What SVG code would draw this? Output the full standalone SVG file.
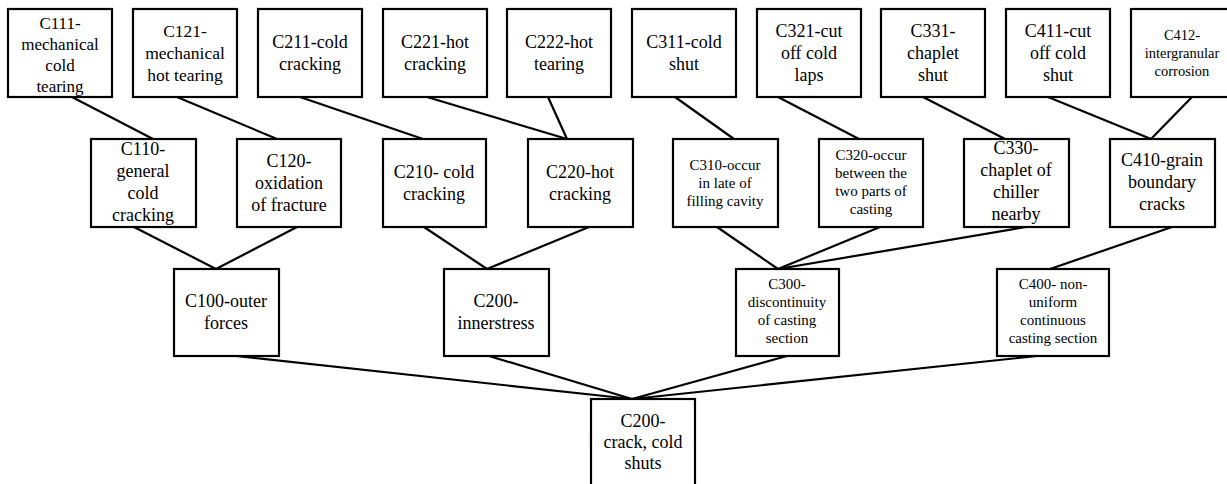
<svg xmlns="http://www.w3.org/2000/svg" width="1227" height="484" viewBox="0 0 1227 484" font-family="'Liberation Serif', 'DejaVu Serif', serif">
<style>
.b{fill:#fff;stroke:#000;stroke-width:2.2}
.c line{stroke:#000;stroke-width:2.2}
text{font-family:'Liberation Serif','DejaVu Serif',serif;fill:#000;text-anchor:middle;font-size:18px}
.s{font-size:15px}
.t{font-size:14.5px}
</style>
<rect width="1227" height="484" fill="#fff"/>
<g id="connectors" class="c">
<line x1="72" y1="97" x2="153" y2="139"/>
<line x1="177" y1="97" x2="277" y2="139"/>
<line x1="300" y1="97" x2="423" y2="139"/>
<line x1="427" y1="97" x2="567" y2="139"/>
<line x1="548" y1="97" x2="567" y2="139"/>
<line x1="675" y1="97" x2="734" y2="139"/>
<line x1="778" y1="97" x2="859" y2="139"/>
<line x1="923" y1="97" x2="1005" y2="139"/>
<line x1="1048" y1="97" x2="1151" y2="139"/>
<line x1="1192" y1="97" x2="1151" y2="139"/>
<line x1="134" y1="227" x2="216" y2="269"/>
<line x1="297" y1="227" x2="216" y2="269"/>
<line x1="424" y1="227" x2="487" y2="269"/>
<line x1="589" y1="227" x2="487" y2="269"/>
<line x1="717" y1="227" x2="778" y2="269"/>
<line x1="880" y1="227" x2="778" y2="269"/>
<line x1="1026" y1="227" x2="778" y2="269"/>
<line x1="1172" y1="227" x2="1050" y2="269"/>
<line x1="236" y1="356" x2="632" y2="399"/>
<line x1="489" y1="356" x2="632" y2="399"/>
<line x1="787" y1="356" x2="632" y2="399"/>
<line x1="1037" y1="356" x2="632" y2="399"/>
</g>
<g id="C111"><rect class="b" x="8" y="9" width="104" height="88"/><text style="font-size:17px"><tspan x="60" y="29">C111-</tspan><tspan x="60" y="50">mechanical</tspan><tspan x="60" y="71">cold</tspan><tspan x="60" y="92">tearing</tspan></text></g>
<g id="C121"><rect class="b" x="133" y="9" width="104" height="88"/><text style="font-size:17.5px"><tspan x="185" y="37">C121-</tspan><tspan x="185" y="59">mechanical</tspan><tspan x="185" y="81">hot tearing</tspan></text></g>
<g id="C211"><rect class="b" x="258" y="9" width="104" height="88"/><text><tspan x="310" y="48">C211-cold</tspan><tspan x="310" y="70">cracking</tspan></text></g>
<g id="C221"><rect class="b" x="383" y="9" width="104" height="88"/><text><tspan x="435" y="48">C221-hot</tspan><tspan x="435" y="70">cracking</tspan></text></g>
<g id="C222"><rect class="b" x="507" y="9" width="104" height="88"/><text><tspan x="559" y="48">C222-hot</tspan><tspan x="559" y="70">tearing</tspan></text></g>
<g id="C311"><rect class="b" x="632" y="9" width="104" height="88"/><text><tspan x="684" y="48">C311-cold</tspan><tspan x="684" y="70">shut</tspan></text></g>
<g id="C321"><rect class="b" x="757" y="9" width="104" height="88"/><text><tspan x="809" y="37">C321-cut</tspan><tspan x="809" y="59">off cold</tspan><tspan x="809" y="81">laps</tspan></text></g>
<g id="C331"><rect class="b" x="881" y="9" width="104" height="88"/><text><tspan x="933" y="37">C331-</tspan><tspan x="933" y="59">chaplet</tspan><tspan x="933" y="81">shut</tspan></text></g>
<g id="C411"><rect class="b" x="1006" y="9" width="104" height="88"/><text><tspan x="1058" y="37">C411-cut</tspan><tspan x="1058" y="59">off cold</tspan><tspan x="1058" y="81">shut</tspan></text></g>
<g id="C412"><rect class="b" x="1131" y="9" width="102" height="88"/><text class="t"><tspan x="1182" y="40">C412-</tspan><tspan x="1182" y="58">intergranular</tspan><tspan x="1182" y="76">corrosion</tspan></text></g>
<g id="C110"><rect class="b" x="91" y="139" width="105" height="88"/><text><tspan x="143" y="155">C110-</tspan><tspan x="143" y="177">general</tspan><tspan x="143" y="199">cold</tspan><tspan x="143" y="221">cracking</tspan></text></g>
<g id="C120"><rect class="b" x="237" y="139" width="104" height="88"/><text><tspan x="289" y="167">C120-</tspan><tspan x="289" y="189">oxidation</tspan><tspan x="289" y="211">of fracture</tspan></text></g>
<g id="C210"><rect class="b" x="383" y="139" width="103" height="88"/><text><tspan x="434" y="178">C210- cold</tspan><tspan x="434" y="200">cracking</tspan></text></g>
<g id="C220"><rect class="b" x="528" y="139" width="105" height="88"/><text><tspan x="580" y="178">C220-hot</tspan><tspan x="580" y="200">cracking</tspan></text></g>
<g id="C310"><rect class="b" x="673" y="139" width="105" height="88"/><text class="s"><tspan x="725" y="170">C310-occur</tspan><tspan x="725" y="188">in late of</tspan><tspan x="725" y="206">filling cavity</tspan></text></g>
<g id="C320"><rect class="b" x="819" y="139" width="104" height="88"/><text class="s"><tspan x="871" y="160">C320-occur</tspan><tspan x="871" y="178">between the</tspan><tspan x="871" y="196">two parts of</tspan><tspan x="871" y="214">casting</tspan></text></g>
<g id="C330"><rect class="b" x="964" y="139" width="105" height="88"/><text><tspan x="1016" y="154">C330-</tspan><tspan x="1016" y="176">chaplet of</tspan><tspan x="1016" y="198">chiller</tspan><tspan x="1016" y="220">nearby</tspan></text></g>
<g id="C410"><rect class="b" x="1110" y="139" width="105" height="88"/><text><tspan x="1162" y="166">C410-grain</tspan><tspan x="1162" y="188">boundary</tspan><tspan x="1162" y="210">cracks</tspan></text></g>
<g id="C100"><rect class="b" x="174" y="269" width="105" height="87"/><text><tspan x="226" y="307">C100-outer</tspan><tspan x="226" y="329">forces</tspan></text></g>
<g id="C200"><rect class="b" x="444" y="269" width="105" height="87"/><text><tspan x="496" y="307">C200-</tspan><tspan x="496" y="329">innerstress</tspan></text></g>
<g id="C300"><rect class="b" x="736" y="269" width="103" height="87"/><text class="s"><tspan x="787" y="289">C300-</tspan><tspan x="787" y="307">discontinuity</tspan><tspan x="787" y="325">of casting</tspan><tspan x="787" y="343">section</tspan></text></g>
<g id="C400"><rect class="b" x="997" y="269" width="112" height="87"/><text class="s"><tspan x="1053" y="289">C400- non-</tspan><tspan x="1053" y="307">uniform</tspan><tspan x="1053" y="325">continuous</tspan><tspan x="1053" y="343">casting section</tspan></text></g>
<g id="C200root"><rect class="b" x="591" y="399" width="104" height="88"/><text><tspan x="643" y="427">C200-</tspan><tspan x="643" y="448">crack, cold</tspan><tspan x="643" y="469">shuts</tspan></text></g>
</svg>
